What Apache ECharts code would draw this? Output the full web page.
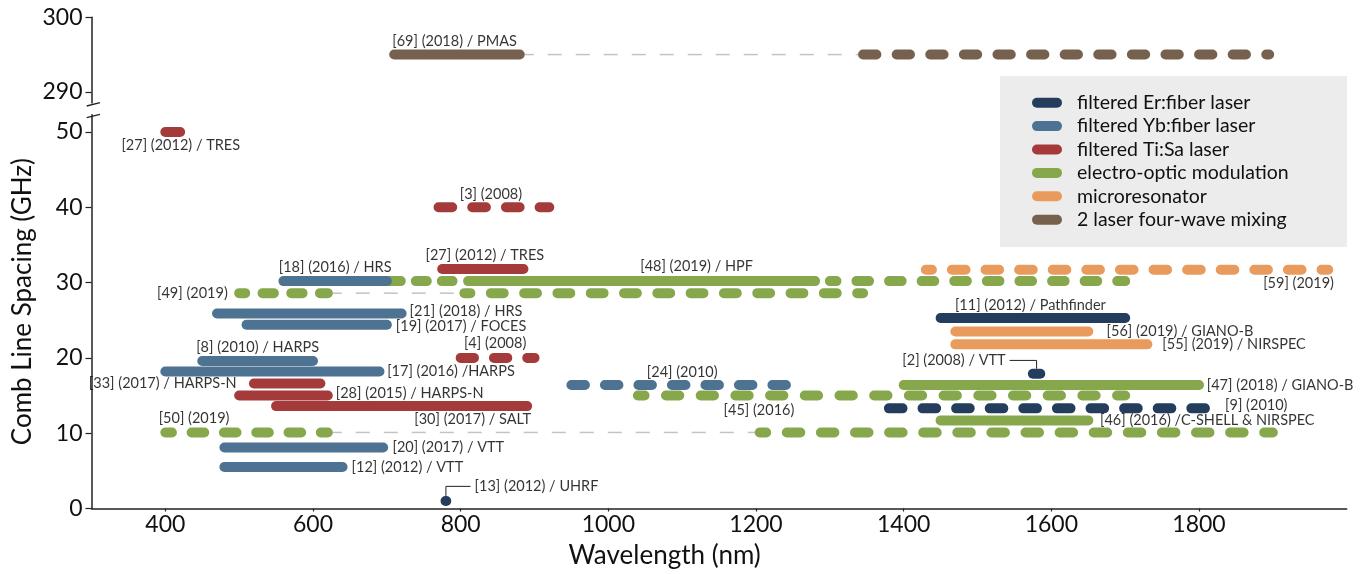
<!DOCTYPE html>
<html><head><meta charset="utf-8">
<script src="https://cdn.jsdelivr.net/npm/echarts@6/dist/echarts.min.js"></script>
<style>html,body{margin:0;padding:0;background:#fff}#c{width:1360px;height:574px}</style>
</head><body><div id="c"></div>
<script>
// ---------------- DATA ----------------
const categories = ['filtered Er:fiber laser','filtered Yb:fiber laser','filtered Ti:Sa laser','electro-optic modulation','microresonator','2 laser four-wave mixing'];

// one entry per drawn bar segment (wavelength span in nm, comb spacing in GHz)
const segLabel   = ['[3] (2008)','[4] (2008)','[24] (2010)','[45] (2016)','[9] (2010)','[59] (2019)','[49] (2019)','','[50] (2019)','','','','',
                    '[69] (2018) / PMAS','[27] (2012) / TRES','[27] (2012) / TRES','[18] (2016) / HRS','[48] (2019) / HPF','[21] (2018) / HRS','[19] (2017) / FOCES',
                    '[8] (2010) / HARPS','[17] (2016) /HARPS','[33] (2017) / HARPS-N','[28] (2015) / HARPS-N','[30] (2017) / SALT','[20] (2017) / VTT','[12] (2012) / VTT',
                    '[13] (2012) / UHRF','[11] (2012) / Pathfinder','[56] (2019) / GIANO-B','[55] (2019) / NIRSPEC','[2] (2008) / VTT','[47] (2018) / GIANO-B','[46] (2016) /C-SHELL & NIRSPEC'];
const segCat     = [2,2,1,3,0,4,3,3,3,3,5,3,3, 5,2,2,1,3,1,1, 1,1,2,2,2,1,1, 0,0,4,4,0,3,3];
const segSpacing = [40,20,16.4,15.0,13.3,31.7,28.6,28.6,10.1,10.1,295,30.2,30.2,
                    295,50,31.8,30.2,30.2,25.9,24.4, 19.6,18.2,16.6,15.0,13.6,8.1,5.5,
                    1.0,25.3,23.5,21.8,17.9,16.4,11.7];
const segStart   = [770,800,950,1040,1380,1430,500,805,400,1205,1345,704,1300,
                    710,400,775,560,810,470,510, 450,400,520,500,550,480,480,
                    779.5,1450,1470,1470,1575,1400,1450];
const segEnd     = [920,900,1250,1700,1810,1975,620,1345,620,1900,1895,789,1700,
                    880,420,885,700,1280,720,700, 600,690,610,620,890,695,640,
                    780.5,1700,1650,1730,1585,1800,1650];
const segDashed  = [1,1,1,1,1,1,1,1,1,1,1,1,1, 0,0,0,0,0,0,0, 0,0,0,0,0,0,0, 0,0,0,0,0,0,0];

// thin grey connectors between split ranges
const connSpacing = [295, 28.6, 10.1];
const connStart   = [880, 620, 620];
const connEnd     = [1345, 805, 1205];

const xTicks    = [400,600,800,1000,1200,1400,1600,1800];
const yTicksLow = [0,10,20,30,40,50];
const yTicksTop = [290,300];

// ---------------- STYLES ----------------
const categoryColors = ['#243d5c','#4e7292','#a53a3b','#86a74b','#e89b5d','#76614f'];
const DASH = {0:[13.7,20,0],1:[13.3,20,0],2:[13.5,20,0],3:[13.3,21.4,6.6],4:[13.6,20,0],5:[13.6,20,7.5],
  6:[11.3,17.4,5.3],7:[12.8,20.5,6.8],8:[12.6,19.7,6],9:[13.5,20.6,7],10:[13.3,20.3,0],11:[11,15,0],12:[12.6,20,6]};
const LBL = {
  0:['mid','center',-3,-13.4],1:['mid','center',-2.5,-14.6],2:['mid','center',0,-12.7],3:['start','left',85.7,15],
  4:['end','left',18.7,-3.3],5:['end','right',5.7,13.3],6:['start','right',-11.4,0],8:['start','left',-6.7,-14.6],
  13:['start','left',-2,-13.3],14:['mid','center',8,13.3],15:['mid','center',2,-13.3],16:['mid','center',0,-14],
  17:['mid','center',55,-14.6],18:['end','left',8,-2],19:['end','left',9,1.5],20:['mid','center',0,-13.4],
  21:['end','left',7.7,0],22:['start','right',-17.3,0],23:['end','left',8,-2.6],24:['end','right',4,13.7],
  25:['end','left',9.3,0],26:['end','left',9,0],27:['mid','left',28.7,-14.6,'right'],28:['mid','center',-2.5,-12.7],
  29:['end','left',18.3,0],30:['end','left',15,0],31:['mid','right',-31,-13.3,'left'],32:['end','left',7.7,0],33:['end','left',11.7,0]
};
const FONT = 'Lato';
const TXT = '#111';

// ---------------- BUILD ----------------
const series = [];
connSpacing.forEach((y,i)=>{
  const g = y > 100 ? 1 : 0;
  series.push({type:'line', name:'connector', xAxisIndex:g, yAxisIndex:g, silent:true, symbol:'none', clip:false,
    data:[[connStart[i],y],[connEnd[i],y]], lineStyle:{color:'#c3c3c3', width:1.5, type:[14,14]}, z:1});
});
segSpacing.forEach((y,i)=>{
  const g = y > 100 ? 1 : 0;
  const c = categoryColors[segCat[i]];
  const d = segDashed[i] ? DASH[i] : null;
  series.push({type:'line', name:categories[segCat[i]], color:c, xAxisIndex:g, yAxisIndex:g, silent:true, symbol:'none', clip:false,
    data:[[segStart[i],y],[segEnd[i],y]],
    lineStyle:{color:c, width:10, cap:'round', type: d ? [d[0],d[1]] : 'solid', dashOffset: d ? d[2] : 0}, z:2});
});
const lblData = [[],[]];
segLabel.forEach((lab,i)=>{
  if(!lab) return;
  const L = LBL[i];
  const x = L[0]==='start' ? segStart[i] : L[0]==='end' ? segEnd[i] : (segStart[i]+segEnd[i])/2;
  const g = segSpacing[i] > 100 ? 1 : 0;
  lblData[g].push({name:lab, value:[x, segSpacing[i]],
    label:{show:true, formatter:'{b}', position:'inside', align:L[1], verticalAlign:'middle', offset:[L[2],L[3]],
           color:'#000', textBorderWidth:0}});
});
[0,1].forEach(g=>{
  series.push({type:'scatter', name:'labels', xAxisIndex:g, yAxisIndex:g, silent:true, symbolSize:1,
    itemStyle:{color:'rgba(0,0,0,0)'}, data:lblData[g], z:5,
    label:{fontFamily:FONT, fontSize:14.5, color:'#000'}});
});

const axisLine = {lineStyle:{color:'#222', width:1.5}};
const plain = v => String(v);
const chart = echarts.init(document.getElementById('c'), null, {renderer:'canvas'});
chart.setOption({
  animation:false,
  textStyle:{fontFamily:FONT},
  grid:[{left:91.5, right:13.3, top:114.7, bottom:65.5},
        {left:91.5, right:13.3, top:17.3, height:85.7}],
  xAxis:[
    {gridIndex:0, type:'value', min:300, max:2000, axisLine:axisLine, splitLine:{show:false},
     axisTick:{customValues:xTicks, length:3, lineStyle:{color:'#222', width:1.2}},
     axisLabel:{customValues:xTicks, formatter:plain, fontFamily:FONT, fontSize:23, color:TXT, margin:5},
     name:'Wavelength (nm)', nameLocation:'middle', nameGap:34,
     nameTextStyle:{fontFamily:FONT, fontSize:26, color:TXT, padding:[0,109,0,0]}},
    {gridIndex:1, type:'value', min:300, max:2000, show:false}
  ],
  yAxis:[
    {gridIndex:0, type:'value', min:0, max:52.3, axisLine:{show:true, lineStyle:{color:'#222', width:1.5}}, splitLine:{show:false},
     axisTick:{show:true, customValues:yTicksLow, length:6, lineStyle:{color:'#222', width:1.2}},
     axisLabel:{customValues:yTicksLow, formatter:plain, fontFamily:FONT, fontSize:23, color:TXT, margin:9},
     name:'Comb Line Spacing (GHz)', nameLocation:'middle', nameGap:56,
     nameTextStyle:{fontFamily:FONT, fontSize:26, color:TXT, padding:[0,0,0,20]}},
    {gridIndex:1, type:'value', min:288.5, max:300, axisLine:{show:true, lineStyle:{color:'#222', width:1.5}}, splitLine:{show:false},
     axisTick:{show:true, customValues:yTicksTop, length:6, lineStyle:{color:'#222', width:1.2}},
     axisLabel:{customValues:yTicksTop, formatter:plain, fontFamily:FONT, fontSize:23, color:TXT, margin:9}}
  ],
  legend:{show:true, data:categories, orient:'vertical', left:1032, top:92.7, padding:0, itemGap:3.4,
    itemWidth:30, itemHeight:10, selectedMode:false,
    icon:'path://M5 0H25A5 5 0 0 1 25 10H5A5 5 0 0 1 5 0Z',
    itemStyle:{borderWidth:0},
    textStyle:{fontFamily:FONT, fontSize:19.5, color:TXT, lineHeight:20, padding:[0,0,0,10]}},
  series:series
});

// leader lines for point-like entries, positioned through the axes' scales
const graphics = [
  {type:'rect', id:'legendBg', shape:{x:1000, y:76, width:347, height:171}, style:{fill:'#ececec'}, z:-1, silent:true},
  {type:'line', id:'brk1', shape:{x1:86.7, y1:106, x2:100, y2:102.7}, style:{stroke:'#222', lineWidth:1.3}, silent:true},
  {type:'line', id:'brk2', shape:{x1:86.7, y1:117.6, x2:100, y2:114.3}, style:{stroke:'#222', lineWidth:1.3}, silent:true}
];
segLabel.forEach((lab,i)=>{
  const L = LBL[i];
  if(!lab || !L || !L[4]) return;
  const p = chart.convertToPixel({gridIndex:0}, [(segStart[i]+segEnd[i])/2, segSpacing[i]]);
  const dir = L[4]==='right' ? 1 : -1;
  const ty = p[1] + L[3];
  const tx = p[0] + L[2] - dir*4;
  graphics.push({type:'polyline', id:'lead'+i, shape:{points:[[p[0],p[1]-5],[p[0],ty],[tx,ty]]},
    style:{stroke:'#222', lineWidth:1, fill:null}, silent:true, z:10});
});
chart.setOption({graphic:graphics});
</script></body></html>
